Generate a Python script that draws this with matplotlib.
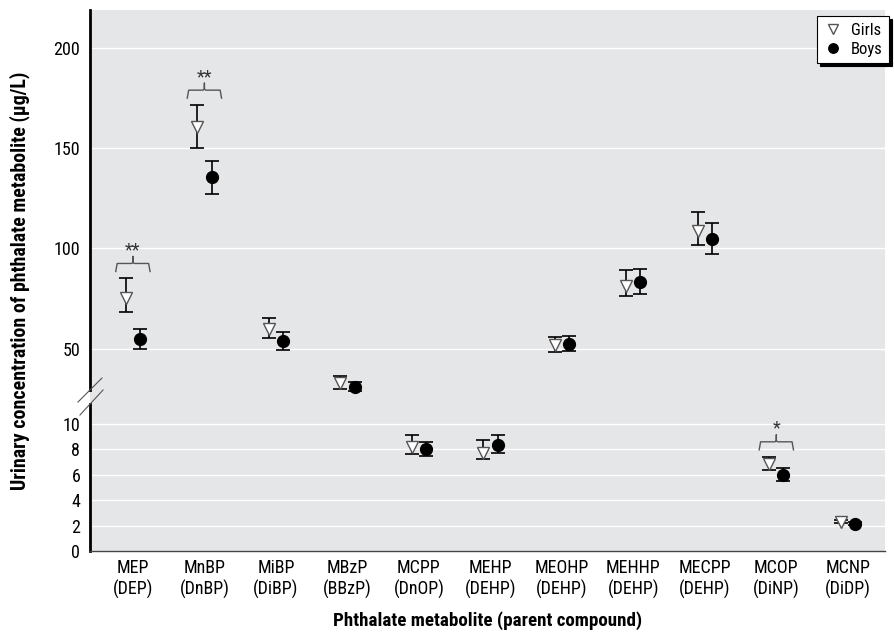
import numpy as np
import matplotlib.pyplot as plt

# metabolite (parent compound)
metabolites = ['MEP', 'MnBP', 'MiBP', 'MBzP', 'MCPP', 'MEHP',
               'MEOHP', 'MEHHP', 'MECPP', 'MCOP', 'MCNP']
parents = ['DEP', 'DnBP', 'DiBP', 'BBzP', 'DnOP', 'DEHP',
           'DEHP', 'DEHP', 'DEHP', 'DiNP', 'DiDP']

# concentrations (ug/L): estimate, lower, upper
girls = [75.5, 160.5, 60.0, 33.0, 8.2, 7.7, 52.0, 81.5, 108.5, 6.85, 2.3]
girls_lo = [68.5, 150.0, 55.5, 30.0, 7.6, 7.25, 48.5, 76.5, 101.5, 6.4, 2.2]
girls_hi = [85.0, 171.5, 65.5, 36.5, 9.1, 8.7, 56.0, 89.0, 118.0, 7.4, 2.4]

boys = [55.0, 135.5, 54.0, 31.0, 8.0, 8.35, 52.5, 83.5, 104.5, 6.0, 2.15]
boys_lo = [50.0, 127.0, 49.5, 29.0, 7.5, 7.7, 49.0, 77.5, 97.0, 5.5, 2.05]
boys_hi = [60.0, 143.5, 58.5, 33.5, 8.6, 9.1, 56.5, 89.5, 112.5, 6.5, 2.25]

# significance marks (girls vs boys)
signif = {0: '**', 1: '**', 9: '*'}

yticks_vals = [0, 2, 4, 6, 8, 10, 50, 100, 150, 200]

# broken axis: 0-11 stretched, gap, then 27+ compressed (units ~ pixels)
brk_in = [0, 11, 27, 260]
brk_out = [0, 139.7, 156, 102 + 2 * 260]

def fwd(y):
    return np.interp(y, brk_in, brk_out)

def inv(v):
    return np.interp(v, brk_out, brk_in)

plt.rcParams['font.family'] = ['Roboto Condensed', 'Liberation Sans Narrow',
                               'Liberation Sans', 'DejaVu Sans']

fig = plt.figure(figsize=(8.94, 6.36), dpi=100)
ax = fig.add_axes([90 / 894, 85 / 636, 795 / 894, 541 / 636])
ax.set_facecolor('#e5e6e8')
ax.set_yscale('function', functions=(fwd, inv))
ax.set_ylim(0, 219)
ax.set_xlim(-0.6, 10.52)

x = np.arange(len(metabolites))
off = 0.1

g = np.array(girls); b = np.array(boys)
ax.errorbar(x - off, g, yerr=[g - np.array(girls_lo), np.array(girls_hi) - g],
            fmt='none', ecolor='black', elinewidth=1.2, capsize=5, capthick=1.2, zorder=3)
ax.errorbar(x + off, b, yerr=[b - np.array(boys_lo), np.array(boys_hi) - b],
            fmt='none', ecolor='black', elinewidth=1.2, capsize=5, capthick=1.2, zorder=3)
ax.plot(x - off, g, 'v', ms=9, mfc='white', mec='#555555', mew=1.0,
        ls='none', zorder=4, label='Girls')
ax.plot(x + off, b, 'o', ms=8.5, mfc='black', mec='black',
        ls='none', zorder=4, label='Boys')

# brackets with stars
for i, s in signif.items():
    top = fwd(girls_hi[i])
    y_end = top + 7
    y_bar = y_end + 8
    y_tick = y_bar + 7
    w = 0.24
    xs = [i - w, i - w + 0.02, i - 0.02, i, i, i, i + 0.02, i + w - 0.02, i + w]
    ys = [y_end, y_bar, y_bar, y_bar + 1, y_tick, y_bar + 1, y_bar, y_bar, y_end]
    ax.plot(xs, inv(np.array(ys)), color='#555555', lw=1.0, zorder=3)
    ax.text(i, inv(y_tick - 3), s, ha='center', va='bottom',
            fontsize=13, color='#333333')

ax.set_yticks(yticks_vals)
ax.set_yticklabels([str(v) for v in yticks_vals], fontsize=13)
ax.set_xticks(x)
ax.set_xticklabels([m + '\n(' + p + ')' for m, p in zip(metabolites, parents)],
                   fontsize=13, linespacing=1.15)
ax.tick_params(axis='both', length=0, pad=7)
ax.tick_params(axis='x', pad=6)
ax.grid(axis='y', color='white', lw=1.0)
ax.set_axisbelow(True)

for sp in ['top', 'right', 'left']:
    ax.spines[sp].set_visible(False)
ax.spines['bottom'].set_color('#444444')
ax.spines['bottom'].set_linewidth(1.0)

# left spine with break
gap_lo, gap_hi = 0.2717, 0.2976
ax.plot([0, 0], [0, gap_lo], transform=ax.transAxes, color='black', lw=2, clip_on=False)
ax.plot([0, 0], [gap_hi, 1], transform=ax.transAxes, color='black', lw=2, clip_on=False)
ax.plot([-0.0151, 0.0151], [0.2754, 0.3198], transform=ax.transAxes,
        color='#555555', lw=0.8, clip_on=False)
ax.plot([-0.0126, 0.0164], [0.2514, 0.2976], transform=ax.transAxes,
        color='#555555', lw=0.8, clip_on=False)

ax.set_ylabel('Urinary concentration of phthalate metabolite (µg/L)',
              fontsize=14.3, fontweight='bold')
ax.set_xlabel('Phthalate metabolite (parent compound)',
              fontsize=13.7, fontweight='bold')
ax.yaxis.set_label_coords(-0.075, 0.5)
ax.xaxis.set_label_coords(0.5, -0.111)

leg = ax.legend(loc='upper right', fontsize=12, frameon=True, fancybox=False,
                shadow={'color': 'black', 'alpha': 1}, handletextpad=0.5,
                borderpad=0.4, labelspacing=0.25, handlelength=1.1,
                markerscale=0.8, borderaxespad=0,
                bbox_to_anchor=(1.005, 0.989))
leg.get_frame().set_edgecolor('black')
leg.get_frame().set_linewidth(0.8)

plt.savefig('out.png', dpi=100)
